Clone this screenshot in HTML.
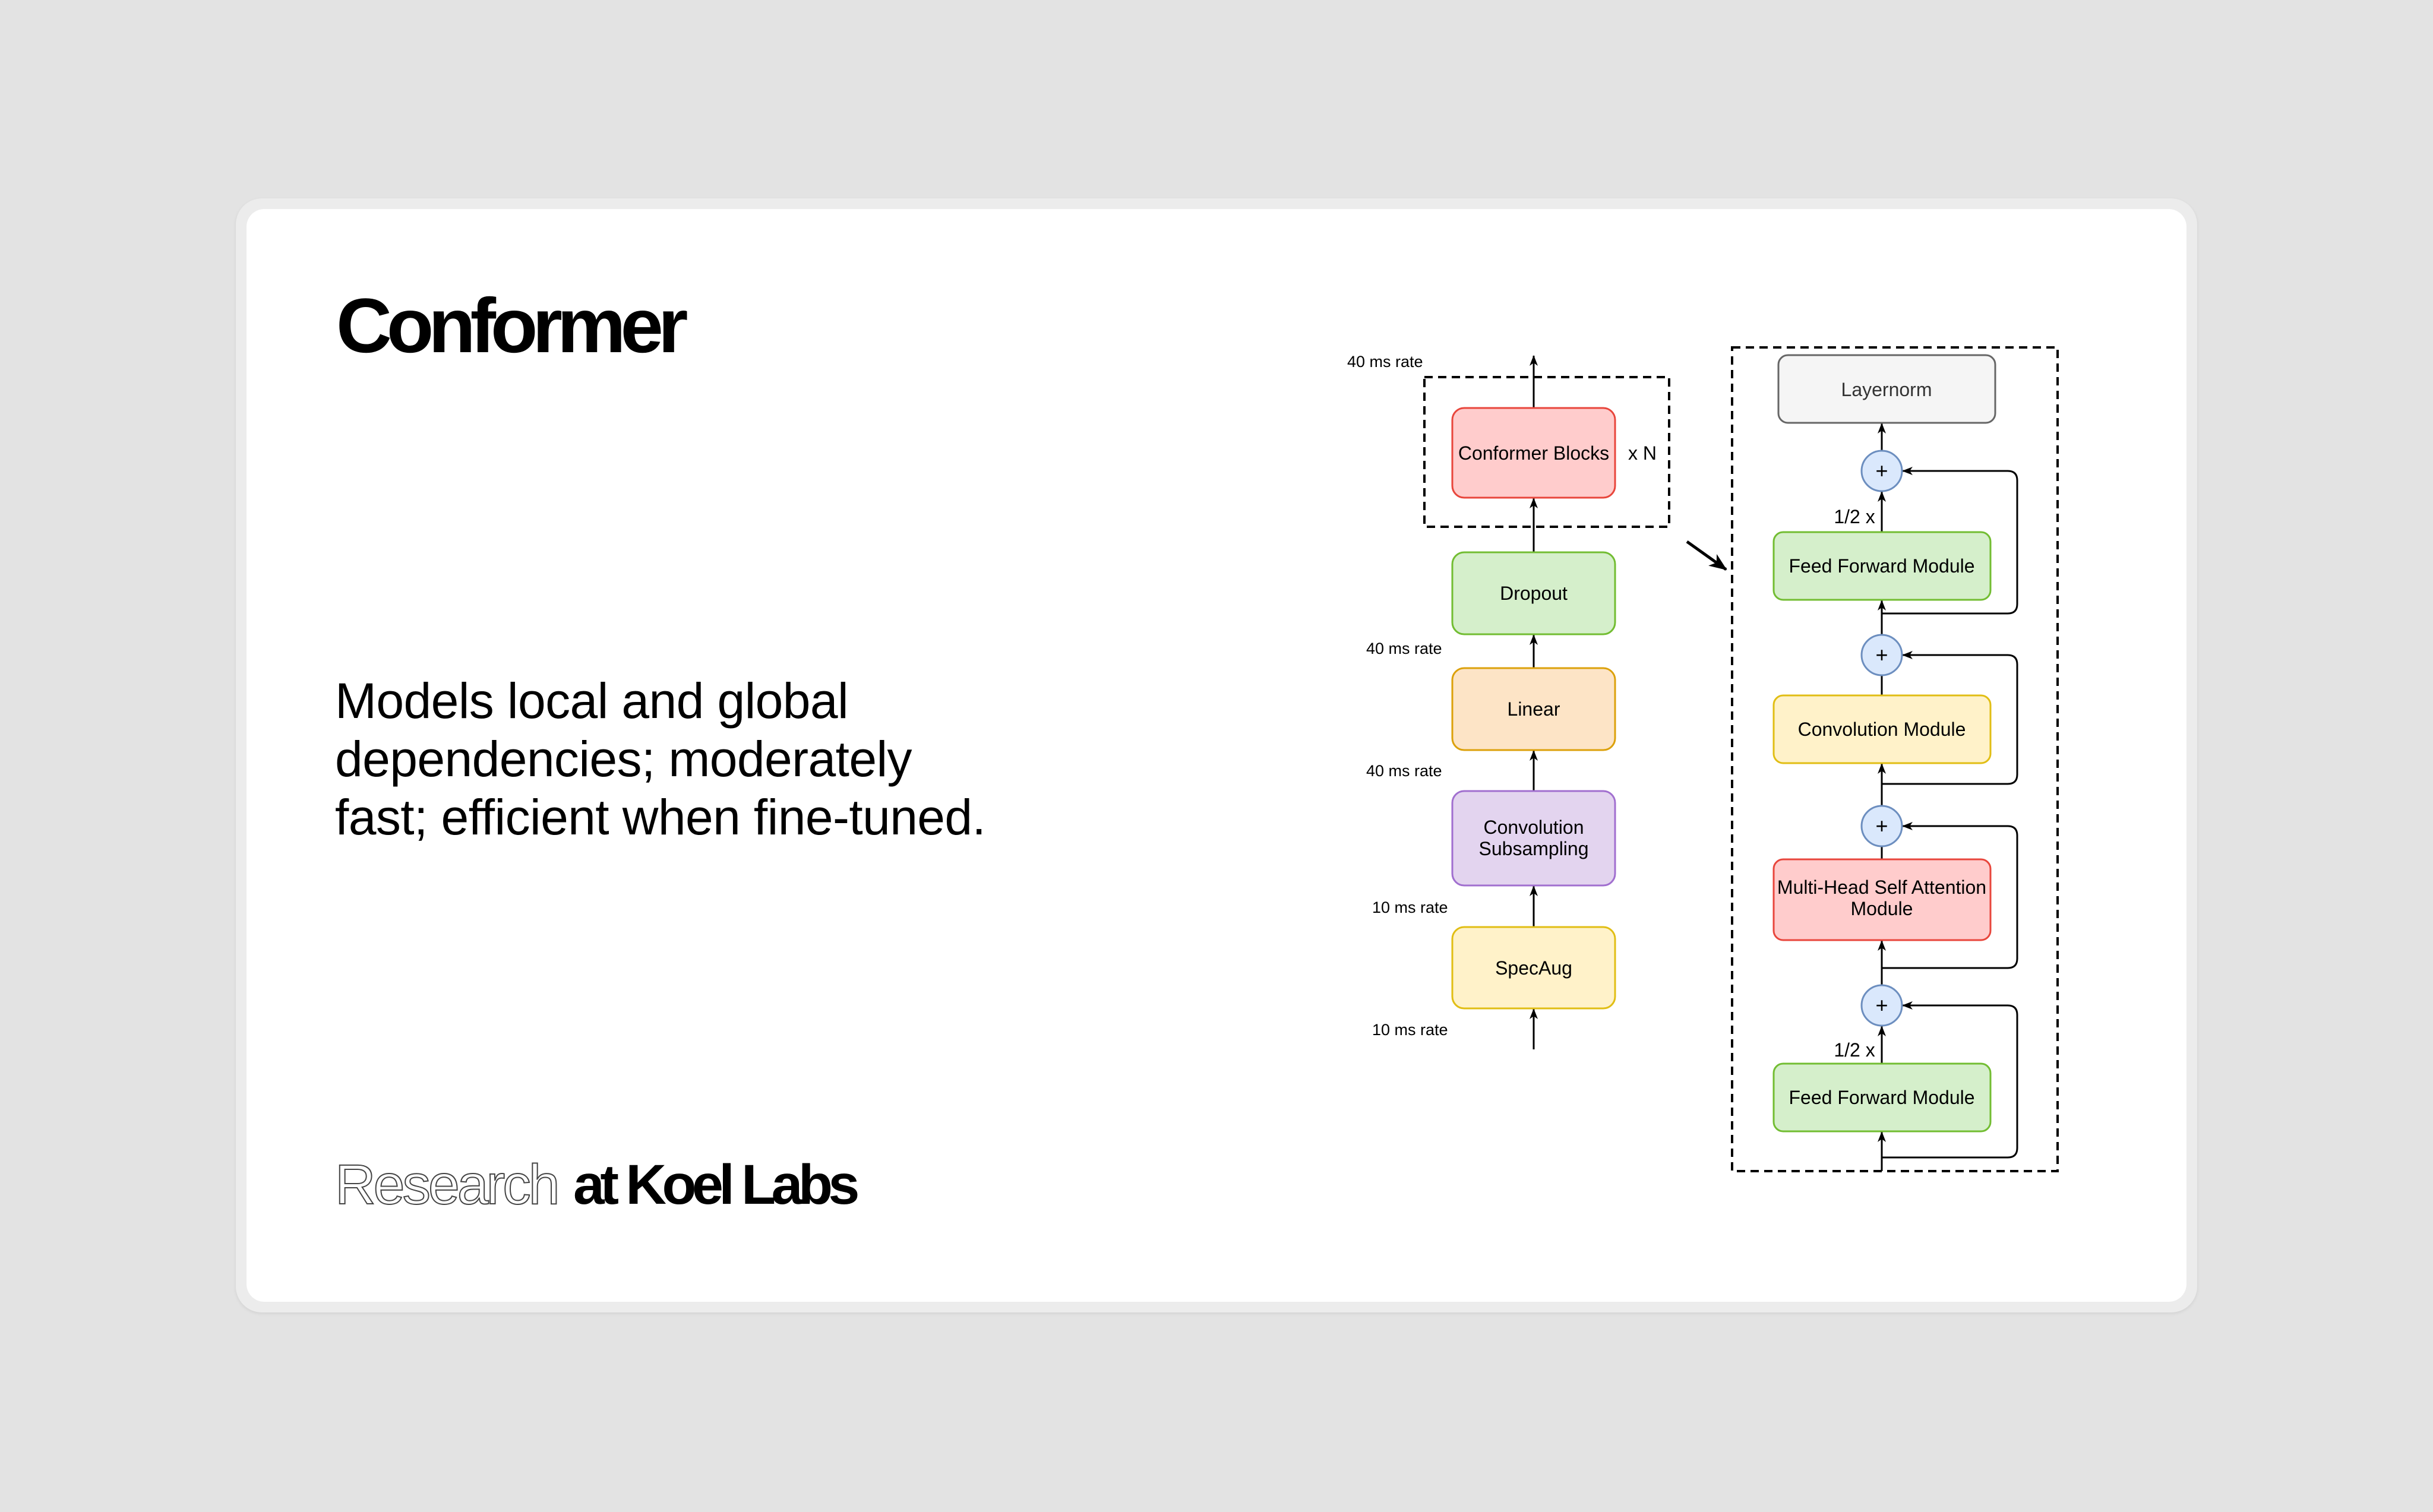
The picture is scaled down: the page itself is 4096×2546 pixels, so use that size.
<!DOCTYPE html>
<html><head><meta charset="utf-8"><style>
html,body{margin:0;padding:0;}
body{width:4096px;height:2546px;background:#e3e3e3;position:relative;overflow:hidden;font-family:"Liberation Sans",Arial,sans-serif;}
.card{position:absolute;left:397px;top:334px;width:3302px;height:1876px;background:#ececec;border-radius:44px;box-shadow:0 2px 6px rgba(0,0,0,0.08);}
.inner{position:absolute;left:415px;top:352px;width:3266px;height:1840px;background:#fff;border-radius:30px;}
.t{position:absolute;white-space:nowrap;color:#000;}
</style></head><body>
<div class="card"></div>
<div class="inner"></div>
<div class="t" style="left:566px;top:473px;font-size:130px;font-weight:bold;letter-spacing:-9px;line-height:150px;">Conformer</div>
<div class="t" style="left:564px;top:1131px;font-size:84px;line-height:98px;letter-spacing:-0.6px;">Models local and global<br>dependencies; moderately<br>fast; efficient when fine-tuned.</div>
<div class="t" style="left:564px;top:1940px;font-size:95px;line-height:110px;"><span style="color:#fff;-webkit-text-stroke:2px #444;letter-spacing:-4px;">Research</span> <span style="font-weight:bold;letter-spacing:-7.5px;">at Koel Labs</span></div>
<svg style="position:absolute;left:0;top:0" width="4096" height="2546" viewBox="0 0 4096 2546" font-family="Liberation Sans, Arial, sans-serif">
<defs>
<marker id="a" markerUnits="userSpaceOnUse" markerWidth="18" markerHeight="14" refX="17" refY="7" orient="auto"><path d="M0,0 L18,7 L0,14 L5,7 z" fill="#000"/></marker>
<marker id="b" markerUnits="userSpaceOnUse" markerWidth="30" markerHeight="24" refX="28" refY="12" orient="auto"><path d="M0,0 L30,12 L0,24 L8,12 z" fill="#000"/></marker>
</defs>
<g stroke="#000" stroke-width="3" fill="none">
<line x1="2582" y1="1767" x2="2582" y2="1699" marker-end="url(#a)"/>
<line x1="2582" y1="1561" x2="2582" y2="1492" marker-end="url(#a)"/>
<line x1="2582" y1="1332" x2="2582" y2="1264" marker-end="url(#a)"/>
<line x1="2582" y1="1125" x2="2582" y2="1069" marker-end="url(#a)"/>
<line x1="2582" y1="930" x2="2582" y2="839" marker-end="url(#a)"/>
<line x1="2582" y1="687" x2="2582" y2="599" marker-end="url(#a)"/>
<line x1="3168" y1="1972" x2="3168" y2="1906" marker-end="url(#a)"/>
<line x1="3168" y1="1791" x2="3168" y2="1728" marker-end="url(#a)"/>
<line x1="3168" y1="1659" x2="3168" y2="1584" marker-end="url(#a)"/>
<line x1="3168" y1="1447" x2="3168" y2="1425"/>
<line x1="3168" y1="1357" x2="3168" y2="1286" marker-end="url(#a)"/>
<line x1="3168" y1="1171" x2="3168" y2="1137"/>
<line x1="3168" y1="1069" x2="3168" y2="1011" marker-end="url(#a)"/>
<line x1="3168" y1="896" x2="3168" y2="828" marker-end="url(#a)"/>
<line x1="3168" y1="759" x2="3168" y2="713" marker-end="url(#a)"/>
<path d="M3168,1033 H3380 Q3396,1033 3396,1017 V809 Q3396,793 3380,793 H3203" marker-end="url(#a)"/>
<path d="M3168,1320 H3380 Q3396,1320 3396,1304 V1119 Q3396,1103 3380,1103 H3203" marker-end="url(#a)"/>
<path d="M3168,1630 H3380 Q3396,1630 3396,1614 V1407 Q3396,1391 3380,1391 H3203" marker-end="url(#a)"/>
<path d="M3168,1949 H3380 Q3396,1949 3396,1933 V1709 Q3396,1693 3380,1693 H3203" marker-end="url(#a)"/>
<line x1="2840" y1="912" x2="2906" y2="959" stroke-width="5" marker-end="url(#b)"/>
<rect x="2398" y="635" width="412" height="252" stroke-width="4" stroke-dasharray="14 9"/>
<rect x="2916" y="585" width="548" height="1387" stroke-width="4" stroke-dasharray="14 9"/>
</g>
<g stroke-width="3">
<rect x="2445" y="687" width="274" height="151" rx="20" fill="#ffcccc" stroke="#e8463c"/>
<rect x="2445" y="930" width="274" height="138" rx="20" fill="#d5efcb" stroke="#72bd32"/>
<rect x="2445" y="1125" width="274" height="138" rx="20" fill="#fde4c6" stroke="#dca10b"/>
<rect x="2445" y="1332" width="274" height="159" rx="20" fill="#e3d4ef" stroke="#a16fcf"/>
<rect x="2445" y="1561" width="274" height="137" rx="20" fill="#fff2c9" stroke="#e1be14"/>
<rect x="2994" y="598" width="365" height="114" rx="16" fill="#f5f5f5" stroke="#666"/>
<rect x="2986" y="896" width="365" height="114" rx="16" fill="#d5efcb" stroke="#72bd32"/>
<rect x="2986" y="1171" width="365" height="114" rx="16" fill="#fff2c9" stroke="#e1be14"/>
<rect x="2986" y="1447" width="365" height="136" rx="16" fill="#ffcccc" stroke="#e8463c"/>
<rect x="2986" y="1791" width="365" height="114" rx="16" fill="#d5efcb" stroke="#72bd32"/>
<g fill="#dae8fc" stroke="#6c8ebf">
<circle cx="3168" cy="793" r="34"/><circle cx="3168" cy="1103" r="34"/><circle cx="3168" cy="1391" r="34"/><circle cx="3168" cy="1693" r="34"/>
</g>
</g>
<g font-size="32" text-anchor="middle" fill="#000">
<text x="2582" y="774">Conformer Blocks</text>
<text x="2765" y="774">x N</text>
<text x="2582" y="1010">Dropout</text>
<text x="2582" y="1205">Linear</text>
<text x="2582" y="1404">Convolution</text>
<text x="2582" y="1440">Subsampling</text>
<text x="2582" y="1641">SpecAug</text>
<text x="3176" y="667" fill="#333">Layernorm</text>
<text x="3168" y="964">Feed Forward Module</text>
<text x="3168" y="1239">Convolution Module</text>
<text x="3168" y="1505">Multi-Head Self Attention</text>
<text x="3168" y="1541">Module</text>
<text x="3168" y="1859">Feed Forward Module</text>
<text x="3168" y="805" font-size="36">+</text>
<text x="3168" y="1115" font-size="36">+</text>
<text x="3168" y="1403" font-size="36">+</text>
<text x="3168" y="1705" font-size="36">+</text>
<text x="3122" y="881">1/2 x</text>
<text x="3122" y="1779">1/2 x</text>
</g>
<g font-size="27" fill="#000">
<text x="2268" y="618">40 ms rate</text>
<text x="2300" y="1101">40 ms rate</text>
<text x="2300" y="1307">40 ms rate</text>
<text x="2310" y="1537">10 ms rate</text>
<text x="2310" y="1743">10 ms rate</text>
</g>
</svg>
</body></html>
